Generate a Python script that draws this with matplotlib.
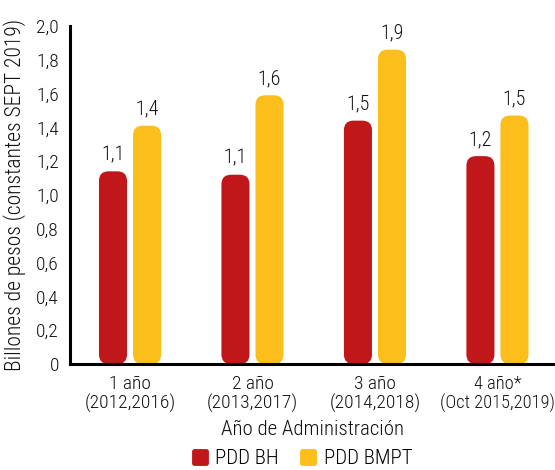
import matplotlib
matplotlib.use("Agg")
import matplotlib.pyplot as plt
from matplotlib import font_manager
from matplotlib.patches import FancyBboxPatch
from matplotlib.lines import Line2D
from matplotlib.markers import MarkerStyle
import numpy as np

ttf = font_manager.fontManager.ttflist
names = {f.name for f in ttf}
fam = 'Roboto'
for cand in ['Liberation Sans Narrow', 'Arial Narrow', 'Roboto Condensed', 'Open Sans Condensed']:
    if cand in names:
        fam = cand
        break
weights = {f.weight for f in ttf if f.name == fam}
plt.rcParams['font.family'] = [fam, 'DejaVu Sans']
WEIGHT = 'light' if (300 in weights or 'light' in weights) else 'normal'
plt.rcParams['font.weight'] = WEIGHT
plt.rcParams['axes.labelweight'] = WEIGHT

categories = ["1 año\n(2012,2016)", "2 año\n(2013,2017)", "3 año\n(2014,2018)", "4 año*\n(Oct 2015,2019)"]
series_names = ["PDD BH", "PDD BMPT"]
bh_values = [1.14, 1.12, 1.44, 1.23]
bmpt_values = [1.41, 1.59, 1.86, 1.47]
bh_labels = ["1,1", "1,1", "1,5", "1,2"]
bmpt_labels = ["1,4", "1,6", "1,9", "1,5"]
yticks = [0, 0.2, 0.4, 0.6, 0.8, 1.0, 1.2, 1.4, 1.6, 1.8, 2.0]
ytick_labels = ["0", "0,2", "0,4", "0,6", "0,8", "1,0", "1,2", "1,4", "1,6", "1,8", "2,0"]

RED = "#C0181A"
YEL = "#FBBE1A"
TXT = "#111111"

fig = plt.figure(figsize=(5.55, 4.70), dpi=100)
ax = fig.add_axes([70/555, (470-364)/470, 485/555, (364-26)/470])

x = np.arange(len(categories))
w = 0.229
off = 0.139
ax.set_xlim(-0.49, 3.47)
ax.set_ylim(0, 2.0)

bb = ax.get_position()
px_x = bb.width * 555 / (3.47 + 0.49)
px_y = bb.height * 470 / 2.0
r_px = 9.5

def draw(bars, color, labels):
    for rect, lab in zip(bars, labels):
        rect.set_visible(False)
        xx, ww, hh = rect.get_x(), rect.get_width(), rect.get_height()
        p = FancyBboxPatch((xx, 0), ww, hh,
                           boxstyle=f"round,pad=0,rounding_size={r_px/px_x}",
                           mutation_aspect=px_x/px_y,
                           fc=color, ec='none', zorder=2, clip_on=False)
        ax.add_patch(p)
        ax.annotate(lab, (xx + ww/2, hh), xytext=(0, 5), textcoords='offset points',
                    ha='center', va='bottom', fontsize=14.5, color=TXT, weight=WEIGHT)

b1 = ax.bar(x - off, bh_values, w, color=RED)
b2 = ax.bar(x + off, bmpt_values, w, color=YEL)
draw(b1, RED, bh_labels)
draw(b2, YEL, bmpt_labels)

ax.set_yticks(yticks)
ax.set_yticklabels(ytick_labels, fontsize=14, color=TXT, weight=WEIGHT)
ax.set_xticks(x)
ax.set_xticklabels(categories, fontsize=14, color=TXT, linespacing=1.05, weight=WEIGHT)
ax.get_xticklabels()[-1].set_fontsize(13.2)
ax.tick_params(axis='both', length=0)
ax.tick_params(axis='y', pad=8)
ax.tick_params(axis='x', pad=8)

for s in ['top', 'right']:
    ax.spines[s].set_visible(False)
for s in ['left', 'bottom']:
    ax.spines[s].set_linewidth(2.2)
    ax.spines[s].set_color('black')
    ax.spines[s].set_zorder(3)

ax.set_ylabel("Billones de pesos (constantes SEPT 2019)", fontsize=15.5, color=TXT, weight=WEIGHT)
ax.yaxis.set_label_coords(-0.09, 0.5)
ax.set_xlabel("Año de Administración", fontsize=15, color=TXT, labelpad=5, weight=WEIGHT)

ms = MarkerStyle('s', joinstyle='round')
handles = [Line2D([], [], ls='none', marker=ms, ms=8, mew=3.5, color=RED, label=series_names[0]),
           Line2D([], [], ls='none', marker=ms, ms=8, mew=3.5, color=YEL, label=series_names[1])]
fig.legend(handles=handles, loc='center', bbox_to_anchor=(302/555, (470-459)/470),
           ncol=2, frameon=False, prop={'size': 15, 'weight': WEIGHT}, handlelength=0.8,
           handletextpad=0.35, columnspacing=1.0, borderaxespad=0)

fig.savefig("out.png", dpi=100)
